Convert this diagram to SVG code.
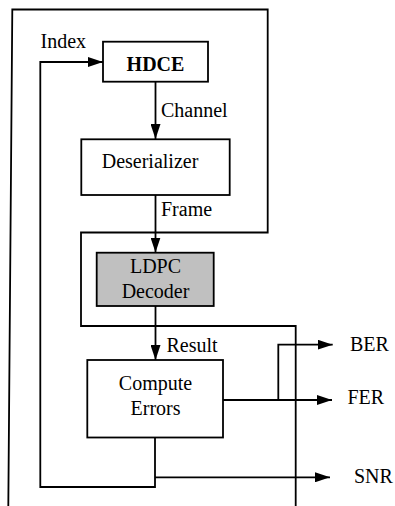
<svg xmlns="http://www.w3.org/2000/svg" width="395" height="506" viewBox="0 0 395 506">
<defs>
<marker id="ah" markerWidth="15" markerHeight="10" refX="15" refY="5" orient="auto" markerUnits="userSpaceOnUse">
<path d="M0,0 L15,5 L0,10 Z" fill="#000"/>
</marker>
<style>
.ln{fill:none;stroke:#000;stroke-width:1.8}
.bx{fill:#fff;stroke:#000;stroke-width:1.8}
.t{font-family:"Liberation Serif","Times New Roman",serif;font-size:20px;fill:#000}
.c{text-anchor:middle}
</style>
</defs>
<rect width="395" height="506" fill="#fff"/>
<g id="frame">
<path class="ln" d="M8.3,506 L12.3,9.5 L267.7,9.5 L267.7,232.5 L81,232.5 L81,326 L295.7,326 L295.7,506"/>
</g>
<g id="connectors">
<path class="ln" d="M155.5,82 L155.5,139" marker-end="url(#ah)"/>
<path class="ln" d="M155.5,195 L155.5,252.5" marker-end="url(#ah)"/>
<path class="ln" d="M155.5,306 L155.5,360" marker-end="url(#ah)"/>
<path class="ln" d="M155,437 L155,487 L40.3,487 L40.3,62 L103,62" marker-end="url(#ah)"/>
<path class="ln" d="M223,400 L332,400" marker-end="url(#ah)"/>
<path class="ln" d="M278.3,400 L278.3,344.7 L332.7,344.7" marker-end="url(#ah)"/>
<path class="ln" d="M155,477.3 L330,477.3" marker-end="url(#ah)"/>
</g>
<g id="labels">
<text class="t" x="40.5" y="48">Index</text>
<text class="t" x="161" y="116.5">Channel</text>
<text class="t" x="161" y="216">Frame</text>
<text class="t" x="166.5" y="351.5">Result</text>
<text class="t" x="350" y="350.5">BER</text>
<text class="t" x="347.5" y="404">FER</text>
<text class="t" x="354" y="483.3">SNR</text>
</g>
<g id="hdce">
<rect class="bx" x="103" y="41.7" width="105" height="40"/>
<text class="t c" x="155.5" y="70.5" font-weight="bold">HDCE</text>
</g>
<g id="deserializer">
<rect class="bx" x="81.3" y="139.3" width="148.4" height="55.7"/>
<text class="t c" x="150" y="168">Deserializer</text>
</g>
<g id="ldpc">
<rect class="bx" x="96.7" y="252.7" width="117" height="53.3" style="fill:#c0c0c0"/>
<text class="t c" x="155.5" y="273.3">LDPC</text>
<text class="t c" x="155.5" y="298.3">Decoder</text>
</g>
<g id="compute">
<rect class="bx" x="87.3" y="360" width="135.7" height="77.5"/>
<text class="t c" x="155.5" y="390">Compute</text>
<text class="t c" x="155.5" y="415">Errors</text>
</g>
</svg>
